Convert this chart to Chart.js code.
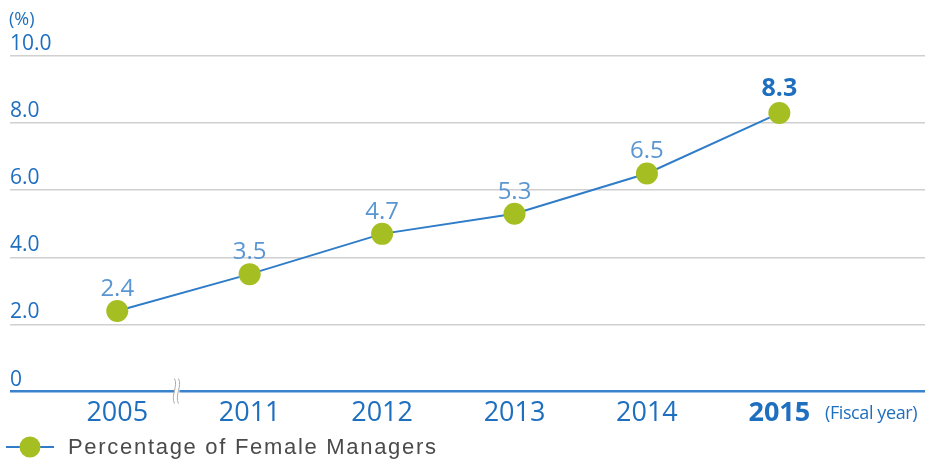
<!DOCTYPE html>
<html>
<head>
<meta charset="utf-8">
<script src="https://cdn.jsdelivr.net/npm/chart.js@4/dist/chart.umd.min.js"></script>
<style>
html,body{margin:0;padding:0;background:#fff;}
#wrap{position:relative;width:930px;height:466px;}
</style>
</head>
<body>
<div id="wrap"><canvas id="c" width="930" height="466"></canvas></div>
<script>
const years = ['2005', '2011', '2012', '2013', '2014', '2015'];
const values = [2.4, 3.5, 4.7, 5.3, 6.5, 8.3];
const yTicks = [0, 2, 4, 6, 8, 10];
const yTickLabels = ['0', '2.0', '4.0', '6.0', '8.0', '10.0'];
const seriesName = 'Percentage of Female Managers';
const unitLabel = '(%)';
const xUnitLabel = '(Fiscal year)';

const BLUE = '#1f6fbf';
const LIGHTBLUE = '#5a97d2';
const GREEN = '#a5bf22';
const LINE = '#2f7dc8';
const FONT = "'Open Sans', 'Noto Sans', sans-serif";

const overlay = {
  id: 'overlay',
  afterDatasetsDraw(chart) {
    const ctx = chart.ctx;
    const xs = chart.scales.x, ys = chart.scales.y;
    ctx.save();
    // data labels
    values.forEach((v, i) => {
      const px = xs.getPixelForValue(i), py = ys.getPixelForValue(v);
      const last = i === values.length - 1;
      ctx.font = (last ? 'bold 25px ' : '24px ') + FONT;
      ctx.fillStyle = last ? BLUE : LIGHTBLUE;
      ctx.textAlign = 'center';
      ctx.textBaseline = 'alphabetic';
      ctx.fillText(v.toFixed(1), px, py - (last ? 17 : 15));
    });
    // unit label
    ctx.font = '18px ' + FONT;
    ctx.fillStyle = BLUE;
    ctx.textAlign = 'left';
    ctx.fillText(unitLabel, 9, 25);
    // fiscal year label
    ctx.font = '18px ' + FONT;
    ctx.letterSpacing = '-0.4px';
    ctx.fillText(xUnitLabel, 825, 419);
    ctx.letterSpacing = '0px';
    // axis break
    const bx = (xs.getPixelForValue(0) + xs.getPixelForValue(1)) / 2 - 7;
    const by = ys.getPixelForValue(0);
    ctx.fillStyle = '#fff';
    ctx.fillRect(bx - 2, by - 3, 5, 6);
    ctx.strokeStyle = '#aaa'; ctx.lineWidth = 1;
    [-2, 2].forEach(o => {
      ctx.beginPath();
      ctx.moveTo(bx + o, by - 13);
      ctx.bezierCurveTo(bx + o + 4, by - 6, bx + o - 4, by + 4, bx + o, by + 12);
      ctx.stroke();
    });
    // legend
    const ly = 447;
    ctx.strokeStyle = LINE; ctx.lineWidth = 2;
    ctx.beginPath(); ctx.moveTo(6, ly); ctx.lineTo(54, ly); ctx.stroke();
    ctx.fillStyle = GREEN;
    ctx.beginPath(); ctx.arc(30, ly, 10.5, 0, Math.PI * 2); ctx.fill();
    ctx.font = "22px 'Liberation Sans', Arial, sans-serif";
    ctx.letterSpacing = '1.7px';
    ctx.fillStyle = '#4a4a4a';
    ctx.textBaseline = 'middle';
    ctx.fillText(seriesName, 68, ly + 1);
    ctx.restore();
  }
};

new Chart(document.getElementById('c'), {
  type: 'line',
  data: {
    datasets: [{
      label: seriesName,
      data: values.map((v, i) => ({ x: i, y: v })),
      borderColor: LINE,
      borderWidth: 2,
      pointBackgroundColor: GREEN,
      pointBorderColor: GREEN,
      pointBorderWidth: 0,
      pointRadius: 11,
      pointHoverRadius: 11,
      pointStyle: 'circle',
      fill: false,
      tension: 0
    }]
  },
  options: {
    responsive: false,
    animation: false,
    devicePixelRatio: 1,
    layout: { autoPadding: false, padding: { left: 10, right: 5, top: 56, bottom: 30 } },
    plugins: {
      legend: { display: false },
      tooltip: { enabled: false }
    },
    scales: {
      x: {
        type: 'linear',
        min: -0.81,
        max: 6.1,
        afterBuildTicks(scale) { scale.ticks = years.map((_, i) => ({ value: i })); },
        grid: { display: false, drawTicks: false },
        border: { display: false },
        ticks: {
          padding: 6,
          color: BLUE,
          font: (ctx) => ({ size: 27, family: FONT, weight: ctx.index === years.length - 1 ? 'bold' : 'normal', lineHeight: 1.2 }),
          callback: (v) => years[v],
          maxRotation: 0,
          autoSkip: false
        }
      },
      y: {
        min: 0,
        max: 10,
        afterBuildTicks(scale) { scale.ticks = yTicks.map(v => ({ value: v })); },
        grid: {
          color: (ctx) => ctx.tick && ctx.tick.value === 0 ? '#3a83cc' : '#d0d0d0',
          lineWidth: (ctx) => ctx.tick && ctx.tick.value === 0 ? 2.5 : 1.5,
          drawTicks: false
        },
        border: { display: false },
        ticks: {
          mirror: true,
          labelOffset: -12,
          padding: 0,
          color: BLUE,
          font: { size: 21, family: FONT },
          callback: (v) => yTickLabels[yTicks.indexOf(v)]
        }
      }
    }
  },
  plugins: [overlay]
});
</script>
</body>
</html>
